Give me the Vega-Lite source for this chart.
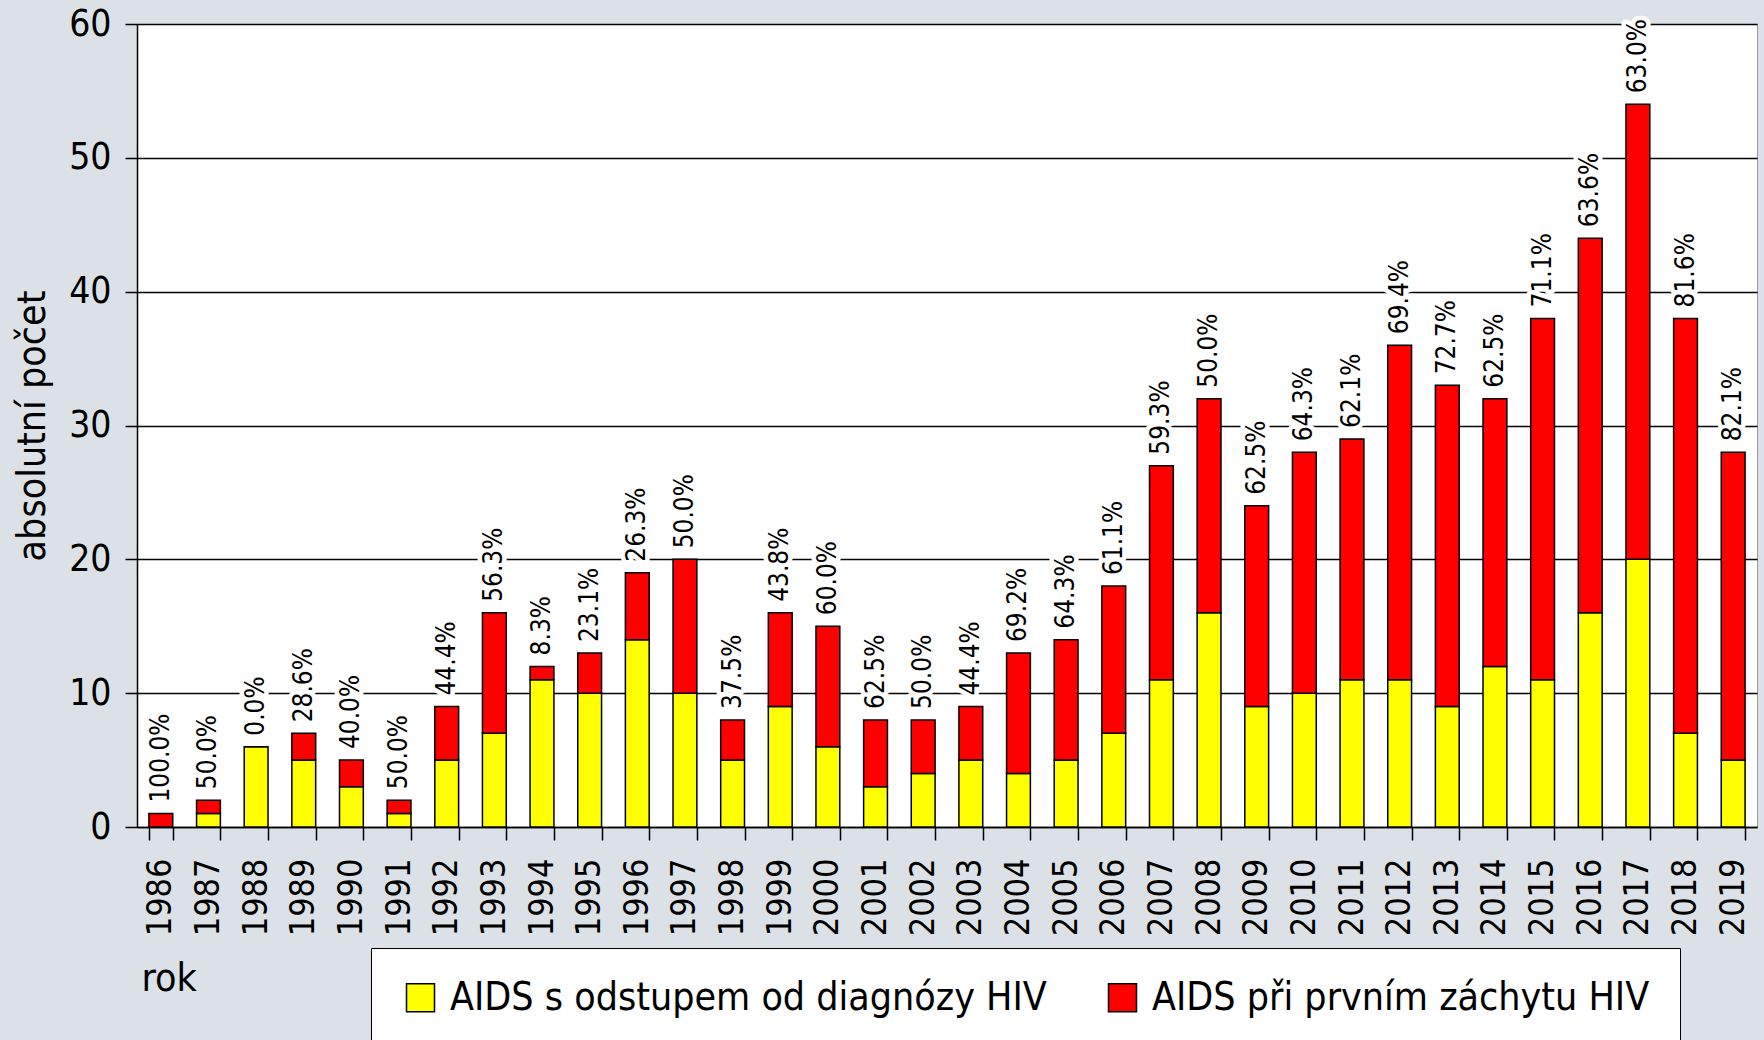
{
  "$schema": "https://vega.github.io/schema/vega-lite/v6.json",
  "width": 1620,
  "height": 803,
  "autosize": "none",
  "padding": {"left": 137, "top": 24, "right": 7, "bottom": 213},
  "background": "#dbe1e6",
  "config": {
    "view": {"fill": "white", "stroke": "#999999", "strokeWidth": 1}
  },
  "datasets": {
    "bars": [
      {"rok": "1986", "typ": "AIDS s odstupem od diagnózy HIV", "pocet": 0},
      {"rok": "1986", "typ": "AIDS při prvním záchytu HIV", "pocet": 1},
      {"rok": "1987", "typ": "AIDS s odstupem od diagnózy HIV", "pocet": 1},
      {"rok": "1987", "typ": "AIDS při prvním záchytu HIV", "pocet": 1},
      {"rok": "1988", "typ": "AIDS s odstupem od diagnózy HIV", "pocet": 6},
      {"rok": "1988", "typ": "AIDS při prvním záchytu HIV", "pocet": 0},
      {"rok": "1989", "typ": "AIDS s odstupem od diagnózy HIV", "pocet": 5},
      {"rok": "1989", "typ": "AIDS při prvním záchytu HIV", "pocet": 2},
      {"rok": "1990", "typ": "AIDS s odstupem od diagnózy HIV", "pocet": 3},
      {"rok": "1990", "typ": "AIDS při prvním záchytu HIV", "pocet": 2},
      {"rok": "1991", "typ": "AIDS s odstupem od diagnózy HIV", "pocet": 1},
      {"rok": "1991", "typ": "AIDS při prvním záchytu HIV", "pocet": 1},
      {"rok": "1992", "typ": "AIDS s odstupem od diagnózy HIV", "pocet": 5},
      {"rok": "1992", "typ": "AIDS při prvním záchytu HIV", "pocet": 4},
      {"rok": "1993", "typ": "AIDS s odstupem od diagnózy HIV", "pocet": 7},
      {"rok": "1993", "typ": "AIDS při prvním záchytu HIV", "pocet": 9},
      {"rok": "1994", "typ": "AIDS s odstupem od diagnózy HIV", "pocet": 11},
      {"rok": "1994", "typ": "AIDS při prvním záchytu HIV", "pocet": 1},
      {"rok": "1995", "typ": "AIDS s odstupem od diagnózy HIV", "pocet": 10},
      {"rok": "1995", "typ": "AIDS při prvním záchytu HIV", "pocet": 3},
      {"rok": "1996", "typ": "AIDS s odstupem od diagnózy HIV", "pocet": 14},
      {"rok": "1996", "typ": "AIDS při prvním záchytu HIV", "pocet": 5},
      {"rok": "1997", "typ": "AIDS s odstupem od diagnózy HIV", "pocet": 10},
      {"rok": "1997", "typ": "AIDS při prvním záchytu HIV", "pocet": 10},
      {"rok": "1998", "typ": "AIDS s odstupem od diagnózy HIV", "pocet": 5},
      {"rok": "1998", "typ": "AIDS při prvním záchytu HIV", "pocet": 3},
      {"rok": "1999", "typ": "AIDS s odstupem od diagnózy HIV", "pocet": 9},
      {"rok": "1999", "typ": "AIDS při prvním záchytu HIV", "pocet": 7},
      {"rok": "2000", "typ": "AIDS s odstupem od diagnózy HIV", "pocet": 6},
      {"rok": "2000", "typ": "AIDS při prvním záchytu HIV", "pocet": 9},
      {"rok": "2001", "typ": "AIDS s odstupem od diagnózy HIV", "pocet": 3},
      {"rok": "2001", "typ": "AIDS při prvním záchytu HIV", "pocet": 5},
      {"rok": "2002", "typ": "AIDS s odstupem od diagnózy HIV", "pocet": 4},
      {"rok": "2002", "typ": "AIDS při prvním záchytu HIV", "pocet": 4},
      {"rok": "2003", "typ": "AIDS s odstupem od diagnózy HIV", "pocet": 5},
      {"rok": "2003", "typ": "AIDS při prvním záchytu HIV", "pocet": 4},
      {"rok": "2004", "typ": "AIDS s odstupem od diagnózy HIV", "pocet": 4},
      {"rok": "2004", "typ": "AIDS při prvním záchytu HIV", "pocet": 9},
      {"rok": "2005", "typ": "AIDS s odstupem od diagnózy HIV", "pocet": 5},
      {"rok": "2005", "typ": "AIDS při prvním záchytu HIV", "pocet": 9},
      {"rok": "2006", "typ": "AIDS s odstupem od diagnózy HIV", "pocet": 7},
      {"rok": "2006", "typ": "AIDS při prvním záchytu HIV", "pocet": 11},
      {"rok": "2007", "typ": "AIDS s odstupem od diagnózy HIV", "pocet": 11},
      {"rok": "2007", "typ": "AIDS při prvním záchytu HIV", "pocet": 16},
      {"rok": "2008", "typ": "AIDS s odstupem od diagnózy HIV", "pocet": 16},
      {"rok": "2008", "typ": "AIDS při prvním záchytu HIV", "pocet": 16},
      {"rok": "2009", "typ": "AIDS s odstupem od diagnózy HIV", "pocet": 9},
      {"rok": "2009", "typ": "AIDS při prvním záchytu HIV", "pocet": 15},
      {"rok": "2010", "typ": "AIDS s odstupem od diagnózy HIV", "pocet": 10},
      {"rok": "2010", "typ": "AIDS při prvním záchytu HIV", "pocet": 18},
      {"rok": "2011", "typ": "AIDS s odstupem od diagnózy HIV", "pocet": 11},
      {"rok": "2011", "typ": "AIDS při prvním záchytu HIV", "pocet": 18},
      {"rok": "2012", "typ": "AIDS s odstupem od diagnózy HIV", "pocet": 11},
      {"rok": "2012", "typ": "AIDS při prvním záchytu HIV", "pocet": 25},
      {"rok": "2013", "typ": "AIDS s odstupem od diagnózy HIV", "pocet": 9},
      {"rok": "2013", "typ": "AIDS při prvním záchytu HIV", "pocet": 24},
      {"rok": "2014", "typ": "AIDS s odstupem od diagnózy HIV", "pocet": 12},
      {"rok": "2014", "typ": "AIDS při prvním záchytu HIV", "pocet": 20},
      {"rok": "2015", "typ": "AIDS s odstupem od diagnózy HIV", "pocet": 11},
      {"rok": "2015", "typ": "AIDS při prvním záchytu HIV", "pocet": 27},
      {"rok": "2016", "typ": "AIDS s odstupem od diagnózy HIV", "pocet": 16},
      {"rok": "2016", "typ": "AIDS při prvním záchytu HIV", "pocet": 28},
      {"rok": "2017", "typ": "AIDS s odstupem od diagnózy HIV", "pocet": 20},
      {"rok": "2017", "typ": "AIDS při prvním záchytu HIV", "pocet": 34},
      {"rok": "2018", "typ": "AIDS s odstupem od diagnózy HIV", "pocet": 7},
      {"rok": "2018", "typ": "AIDS při prvním záchytu HIV", "pocet": 31},
      {"rok": "2019", "typ": "AIDS s odstupem od diagnózy HIV", "pocet": 5},
      {"rok": "2019", "typ": "AIDS při prvním záchytu HIV", "pocet": 23}
    ],
    "labels": [
      {"rok": "1986", "celkem": 1, "podil": "100.0%"},
      {"rok": "1987", "celkem": 2, "podil": "50.0%"},
      {"rok": "1988", "celkem": 6, "podil": "0.0%"},
      {"rok": "1989", "celkem": 7, "podil": "28.6%"},
      {"rok": "1990", "celkem": 5, "podil": "40.0%"},
      {"rok": "1991", "celkem": 2, "podil": "50.0%"},
      {"rok": "1992", "celkem": 9, "podil": "44.4%"},
      {"rok": "1993", "celkem": 16, "podil": "56.3%"},
      {"rok": "1994", "celkem": 12, "podil": "8.3%"},
      {"rok": "1995", "celkem": 13, "podil": "23.1%"},
      {"rok": "1996", "celkem": 19, "podil": "26.3%"},
      {"rok": "1997", "celkem": 20, "podil": "50.0%"},
      {"rok": "1998", "celkem": 8, "podil": "37.5%"},
      {"rok": "1999", "celkem": 16, "podil": "43.8%"},
      {"rok": "2000", "celkem": 15, "podil": "60.0%"},
      {"rok": "2001", "celkem": 8, "podil": "62.5%"},
      {"rok": "2002", "celkem": 8, "podil": "50.0%"},
      {"rok": "2003", "celkem": 9, "podil": "44.4%"},
      {"rok": "2004", "celkem": 13, "podil": "69.2%"},
      {"rok": "2005", "celkem": 14, "podil": "64.3%"},
      {"rok": "2006", "celkem": 18, "podil": "61.1%"},
      {"rok": "2007", "celkem": 27, "podil": "59.3%"},
      {"rok": "2008", "celkem": 32, "podil": "50.0%"},
      {"rok": "2009", "celkem": 24, "podil": "62.5%"},
      {"rok": "2010", "celkem": 28, "podil": "64.3%"},
      {"rok": "2011", "celkem": 29, "podil": "62.1%"},
      {"rok": "2012", "celkem": 36, "podil": "69.4%"},
      {"rok": "2013", "celkem": 33, "podil": "72.7%"},
      {"rok": "2014", "celkem": 32, "podil": "62.5%"},
      {"rok": "2015", "celkem": 38, "podil": "71.1%"},
      {"rok": "2016", "celkem": 44, "podil": "63.6%"},
      {"rok": "2017", "celkem": 54, "podil": "63.0%"},
      {"rok": "2018", "celkem": 38, "podil": "81.6%"},
      {"rok": "2019", "celkem": 28, "podil": "82.1%"}
    ]
  },
  "layer": [
    {
      "data": {"name": "bars"},
      "mark": {"type": "bar", "stroke": "black", "strokeWidth": 1.5},
      "encoding": {
        "x": {
          "field": "rok",
          "type": "ordinal",
          "scale": {"paddingInner": 0.5, "paddingOuter": 0.25},
          "axis": {
            "title": "rok",
            "labelAngle": -90,
            "labelAlign": "right",
            "labelBaseline": "middle",
            "labelFont": "DejaVu Sans Condensed",
            "labelFontSize": 34,
            "labelColor": "black",
            "labelPadding": 18,
            "tickBand": "extent",
            "tickSize": 13,
            "tickColor": "black",
            "tickWidth": 1.5,
            "domainColor": "black",
            "domainWidth": 1.5,
            "titleFont": "DejaVu Sans Condensed",
            "titleFontSize": 39,
            "titleFontWeight": "normal",
            "titleColor": "black",
            "titleAnchor": "start",
            "titleAlign": "left",
            "titleBaseline": "middle",
            "titleX": 4,
            "titleY": 151
          }
        },
        "y": {
          "field": "pocet",
          "type": "quantitative",
          "stack": "zero",
          "scale": {"domain": [0, 60], "nice": false},
          "axis": {
            "title": "absolutní počet",
            "values": [0, 10, 20, 30, 40, 50, 60],
            "grid": true,
            "gridColor": "black",
            "gridWidth": 1.3,
            "tickColor": "black",
            "tickSize": 12,
            "tickWidth": 1.5,
            "domainColor": "black",
            "domainWidth": 1.5,
            "labelFont": "DejaVu Sans Condensed",
            "labelFontSize": 37,
            "labelColor": "black",
            "labelPadding": 14,
            "titleFont": "DejaVu Sans Condensed",
            "titleFontSize": 39,
            "titleFontWeight": "normal",
            "titleColor": "black",
            "titlePadding": 16
          }
        },
        "color": {
          "field": "typ",
          "type": "nominal",
          "scale": {
            "domain": ["AIDS s odstupem od diagnózy HIV", "AIDS při prvním záchytu HIV"],
            "range": ["#ffff00", "#ff0000"]
          },
          "legend": {
            "orient": "none",
            "legendX": 234,
            "legendY": 924,
            "direction": "horizontal",
            "title": null,
            "fillColor": "white",
            "strokeColor": "black",
            "padding": 30,
            "symbolType": "square",
            "symbolSize": 784,
            "symbolStrokeColor": "black",
            "symbolStrokeWidth": 1.5,
            "symbolOpacity": 1,
            "labelFont": "DejaVu Sans Condensed",
            "labelFontSize": 39,
            "labelColor": "black",
            "labelOffset": 10,
            "labelLimit": 900,
            "columnPadding": 56
          }
        }
      }
    },
    {
      "data": {"name": "labels"},
      "mark": {
        "type": "text",
        "angle": -90,
        "align": "left",
        "baseline": "middle",
        "dx": 11,
        "font": "DejaVu Sans Condensed",
        "fontSize": 26,
        "stroke": "white",
        "strokeWidth": 9,
        "strokeJoin": "round",
        "fill": "white"
      },
      "encoding": {
        "x": {"field": "rok", "type": "ordinal"},
        "y": {"field": "celkem", "type": "quantitative"},
        "text": {"field": "podil", "type": "nominal"}
      }
    },
    {
      "data": {"name": "labels"},
      "mark": {
        "type": "text",
        "angle": -90,
        "align": "left",
        "baseline": "middle",
        "dx": 11,
        "font": "DejaVu Sans Condensed",
        "fontSize": 26,
        "fill": "black"
      },
      "encoding": {
        "x": {"field": "rok", "type": "ordinal"},
        "y": {"field": "celkem", "type": "quantitative"},
        "text": {"field": "podil", "type": "nominal"}
      }
    }
  ]
}
